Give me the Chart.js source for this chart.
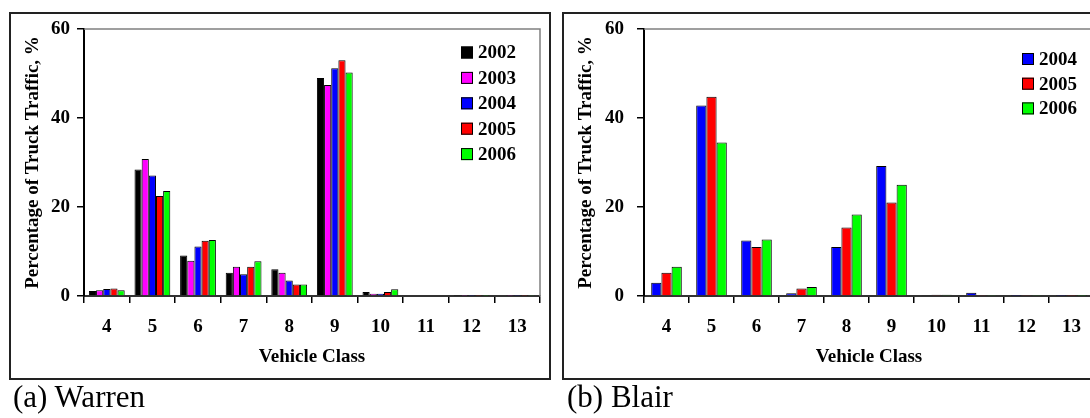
<!DOCTYPE html>
<html>
<head>
<meta charset="utf-8">
<title>Percentage of Truck Traffic by Vehicle Class</title>
<script src="https://cdn.jsdelivr.net/npm/chart.js"></script>
<style>
  body {
    margin: 0;
    width: 1090px;
    height: 418px;
    overflow: hidden;
    background: #fff;
    position: relative;
    font-family: "Liberation Serif", serif;
  }
  .panel { position: absolute; top: 12px; width: 542px; height: 368px; }
  .panel canvas { position: absolute; left: 0; top: 0; }
  .frame {
    position: absolute; left: 0; top: 0; width: 542px; height: 368px;
    border: 2px solid #222; box-sizing: border-box; pointer-events: none;
  }
  .caption { position: absolute; top: 381px; font-size: 31px; line-height: 31px; color: #000; }
</style>
</head>
<body>
<div class="panel" style="left:9px">
  <canvas id="warren" width="542" height="368"></canvas>
  <div class="frame"></div>
</div>
<div class="caption" style="left:13px">(a) Warren</div>

<div class="panel" style="left:562px">
  <canvas id="blair" width="542" height="368"></canvas>
  <div class="frame"></div>
</div>
<div class="caption" style="left:567px">(b) Blair</div>

<script>
// data (% of truck traffic)
const classes = ["4", "5", "6", "7", "8", "9", "10", "11", "12", "13"];
const yTicks = [0, 20, 40, 60];

// Warren
const warren2002 = [1.1, 28.4, 9.1, 5.2, 6.0, 49.0, 0.9, 0.15, 0.03, 0.15];
const warren2003 = [1.3, 30.8, 7.9, 6.6, 5.2, 47.4, 0.5, 0.15, 0.03, 0.05];
const warren2004 = [1.6, 27.1, 11.1, 4.9, 3.5, 51.2, 0.5, 0.15, 0.03, 0.05];
const warren2005 = [1.7, 22.5, 12.4, 6.6, 2.6, 53.0, 0.9, 0.15, 0.03, 0.05];
const warren2006 = [1.3, 23.6, 12.6, 7.8, 2.6, 50.2, 1.5, 0.15, 0.03, 0.1];

// Blair
const blair2004 = [3.0, 42.8, 12.5, 0.6, 11.0, 29.2, 0.2, 0.75, 0.05, 0.05];
const blair2005 = [5.2, 44.8, 11.0, 1.7, 15.4, 21.0, 0.3, 0.1, 0.1, 0.05];
const blair2006 = [6.6, 34.5, 12.7, 2.0, 18.3, 25.0, 0.3, 0.1, 0.1, 0.05];

const tickFont = { family: "Liberation Serif", size: 19, weight: "bold" };
const titleFont = { family: "Liberation Serif", size: 19, weight: "bold" };

// grey top/right edge of the plot + legend inside the plot
const frameAndLegend = {
  id: "frameAndLegend",
  afterDraw(chart, args, opts) {
    const ctx = chart.ctx;
    const a = chart.chartArea;
    ctx.save();
    ctx.strokeStyle = "#808080";
    ctx.lineWidth = 1.5;
    ctx.beginPath();
    ctx.moveTo(a.left, a.top);
    ctx.lineTo(a.right, a.top);
    ctx.lineTo(a.right, a.bottom);
    ctx.stroke();

    ctx.font = 'bold 19px "Liberation Serif"';
    ctx.textBaseline = "middle";
    chart.data.datasets.forEach(function (ds, i) {
      const y = opts.y + i * opts.step;
      ctx.fillStyle = ds.backgroundColor;
      ctx.fillRect(opts.x, y - 6, 12, 12);
      ctx.strokeStyle = "#000";
      ctx.lineWidth = 1;
      ctx.strokeRect(opts.x + 0.5, y - 5.5, 11, 11);
      ctx.fillStyle = "#000";
      ctx.fillText(ds.label, opts.x + 17, y + 1);
    });
    ctx.restore();
  }
};

function bars(label, color, values, pct) {
  return {
    label: label,
    data: values,
    backgroundColor: color,
    borderColor: "#000",
    borderWidth: 1,
    categoryPercentage: pct,
    barPercentage: 1.0
  };
}

function chartOptions(p) {
  return {
    responsive: false,
    animation: false,
    events: [],
    layout: { padding: { left: p.padLeft, right: p.padRight, top: 17, bottom: 12 } },
    plugins: {
      legend: { display: false },
      tooltip: { enabled: false },
      frameAndLegend: { x: p.legendX, y: p.legendY, step: p.legendStep }
    },
    scales: {
      x: {
        grid: { offset: true, drawOnChartArea: false, color: "#000", tickLength: 7, lineWidth: 1.5 },
        border: { color: "#333", width: 2 },
        ticks: { color: "#000", padding: 13, font: tickFont, maxRotation: 0, autoSkip: false },
        title: { display: true, text: "Vehicle Class", color: "#000", font: titleFont, padding: 0 },
        afterFit: function (scale) {
          scale.height = 72;
          scale.paddingLeft = 0;
          scale.paddingRight = 0;
        }
      },
      y: {
        min: 0,
        max: 60,
        afterBuildTicks: function (scale) {
          scale.ticks = yTicks.map(function (v) { return { value: v }; });
        },
        grid: { drawOnChartArea: false, color: "#000", tickLength: 7, lineWidth: 1.5 },
        border: { color: "#000", width: 2 },
        ticks: { color: "#000", padding: p.tickPad, font: tickFont },
        title: { display: true, text: "Percentage of Truck Traffic, %", color: "#000", font: titleFont, padding: 0 },
        afterFit: function (scale) {
          scale.width = p.yWidth;
          scale.paddingTop = 0;
          scale.paddingBottom = 0;
        }
      }
    }
  };
}

new Chart("warren", {
  type: "bar",
  data: {
    labels: classes,
    datasets: [
      bars("2002", "#000000", warren2002, 0.785),
      bars("2003", "#ff00ff", warren2003, 0.785),
      bars("2004", "#0000ff", warren2004, 0.785),
      bars("2005", "#ff0000", warren2005, 0.785),
      bars("2006", "#00ff00", warren2006, 0.785)
    ]
  },
  options: chartOptions({
    padLeft: 13, padRight: 11, yWidth: 62, tickPad: 7,
    legendX: 452, legendY: 40.5, legendStep: 25.4
  }),
  plugins: [frameAndLegend]
});

new Chart("blair", {
  type: "bar",
  data: {
    labels: classes,
    datasets: [
      bars("2004", "#0000ff", blair2004, 0.68),
      bars("2005", "#ff0000", blair2005, 0.68),
      bars("2006", "#00ff00", blair2006, 0.68)
    ]
  },
  options: chartOptions({
    padLeft: 13, padRight: 10, yWidth: 69, tickPad: 13,
    legendX: 460, legendY: 47, legendStep: 24.7
  }),
  plugins: [frameAndLegend]
});
</script>
</body>
</html>
